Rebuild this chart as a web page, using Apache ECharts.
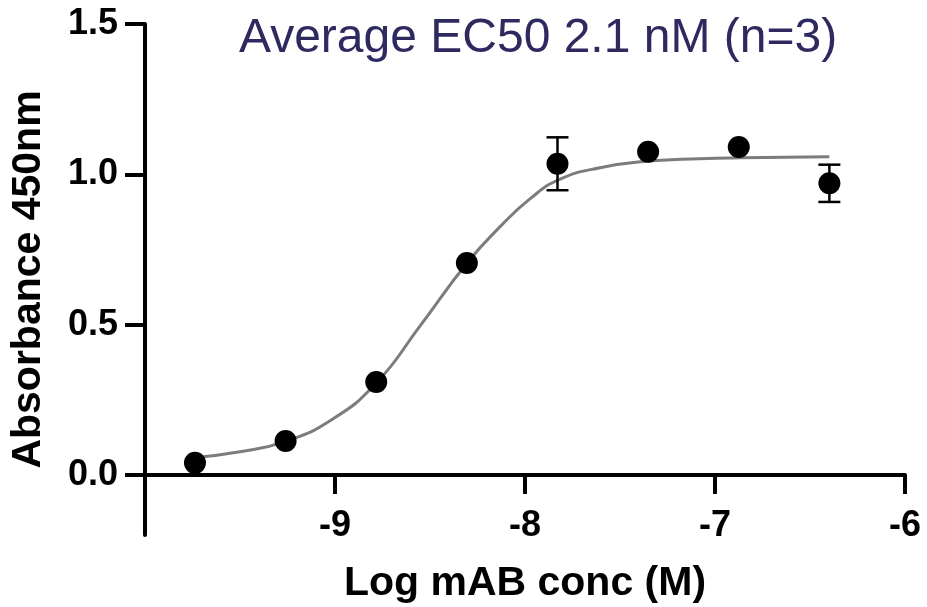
<!DOCTYPE html>
<html>
<head>
<meta charset="utf-8">
<script src="https://cdn.jsdelivr.net/npm/echarts@6/dist/echarts.min.js"></script>
<style>
  html, body { margin: 0; padding: 0; background: #fff; }
  #chart { width: 927px; height: 607px; }
</style>
</head>
<body>
<div id="chart"></div>
<script>
// Dose-response ELISA: absorbance vs log antibody concentration (3-fold dilutions)
const logConc = [-9.737, -9.260, -8.783, -8.306, -7.829, -7.352, -6.875, -6.398];
const absMean = [0.040, 0.113, 0.309, 0.705, 1.035, 1.075, 1.091, 0.970];
const absSD   = [0, 0, 0, 0, 0.088, 0, 0, 0.062];

// Fitted sigmoidal curve, sampled along the concentration range
const fitX = [-9.737, -9.50, -9.268, -9.026, -8.784, -8.553, -8.305, -8.132, -7.974, -7.821, -7.605, -7.347, -7.080, -6.863, -6.398];
const fitY = [0.058, 0.077, 0.110, 0.180, 0.305, 0.495, 0.705, 0.825, 0.918, 0.982, 1.022, 1.044, 1.052, 1.055, 1.058];

const yTicks = [0, 0.5, 1.0, 1.5];
const xTicks = [-9, -8, -7, -6];

const titleText = 'Average EC50 2.1 nM (n=3)';
const xTitle = 'Log mAB conc (M)';
const yTitle = 'Absorbance 450nm';

const FONT = '"Liberation Sans", Arial, Helvetica, sans-serif';

const chart = echarts.init(document.getElementById('chart'), null, { renderer: 'canvas' });

const points = logConc.map((x, i) => [x, absMean[i]]);
const errData = logConc.map((x, i) => [x, absMean[i], absSD[i]]);
const curve = fitX.map((x, i) => [x, fitY[i]]);

chart.setOption({
  animation: false,
  backgroundColor: '#ffffff',
  title: {
    text: titleText,
    left: 239,
    top: 15,
    padding: 0,
    textStyle: { fontFamily: FONT, fontSize: 48, fontWeight: 'normal', color: '#2e2a60' }
  },
  grid: { left: 145, right: 22, top: 24, bottom: 72, outerBoundsMode: 'none' },
  xAxis: {
    type: 'value',
    min: -10,
    max: -6,
    interval: 1,
    name: xTitle,
    nameLocation: 'middle',
    nameGap: 28,
    nameTextStyle: { fontFamily: FONT, fontSize: 41, fontWeight: 'bold', color: '#000' },
    axisLine: { onZero: true, lineStyle: { color: '#000', width: 4 } },
    axisTick: { customValues: xTicks, length: 19, lineStyle: { color: '#000', width: 4 } },
    axisLabel: {
      customValues: xTicks,
      margin: -27,
      fontFamily: FONT, fontSize: 36, fontWeight: 'bold', color: '#000',
      formatter: v => String(v)
    },
    splitLine: { show: false }
  },
  yAxis: {
    type: 'value',
    min: -0.2,
    max: 1.5,
    name: yTitle,
    nameLocation: 'middle',
    nameGap: 96,
    nameTextStyle: { fontFamily: FONT, fontSize: 41, fontWeight: 'bold', color: '#000' },
    axisLine: { show: true, lineStyle: { color: '#000', width: 4 } },
    axisTick: { show: true, customValues: yTicks, length: 20, lineStyle: { color: '#000', width: 4 } },
    axisLabel: {
      customValues: yTicks,
      margin: 27,
      fontFamily: FONT, fontSize: 36, fontWeight: 'bold', color: '#000',
      formatter: v => v.toFixed(1)
    },
    splitLine: { show: false }
  },
  series: [
    {
      name: 'fit',
      type: 'line',
      data: curve,
      smooth: true,
      showSymbol: false,
      lineStyle: { color: '#7c7c7c', width: 3 },
      z: 1
    },
    {
      name: 'sd',
      type: 'custom',
      data: errData,
      renderItem: function (params, api) {
        const sd = api.value(2);
        if (!sd) return null;
        const x = api.value(0), m = api.value(1);
        const top = api.coord([x, m + sd]);
        const bot = api.coord([x, m - sd]);
        const half = 11;
        const style = { stroke: '#000', lineWidth: 2.5 };
        return {
          type: 'group',
          children: [
            { type: 'line', shape: { x1: top[0], y1: top[1], x2: bot[0], y2: bot[1] }, style },
            { type: 'line', shape: { x1: top[0] - half, y1: top[1], x2: top[0] + half, y2: top[1] }, style },
            { type: 'line', shape: { x1: bot[0] - half, y1: bot[1], x2: bot[0] + half, y2: bot[1] }, style }
          ]
        };
      },
      z: 2
    },
    {
      name: 'mean',
      type: 'scatter',
      data: points,
      symbol: 'circle',
      symbolSize: 22,
      itemStyle: { color: '#000', opacity: 1 },
      z: 3
    }
  ]
});
</script>
</body>
</html>
